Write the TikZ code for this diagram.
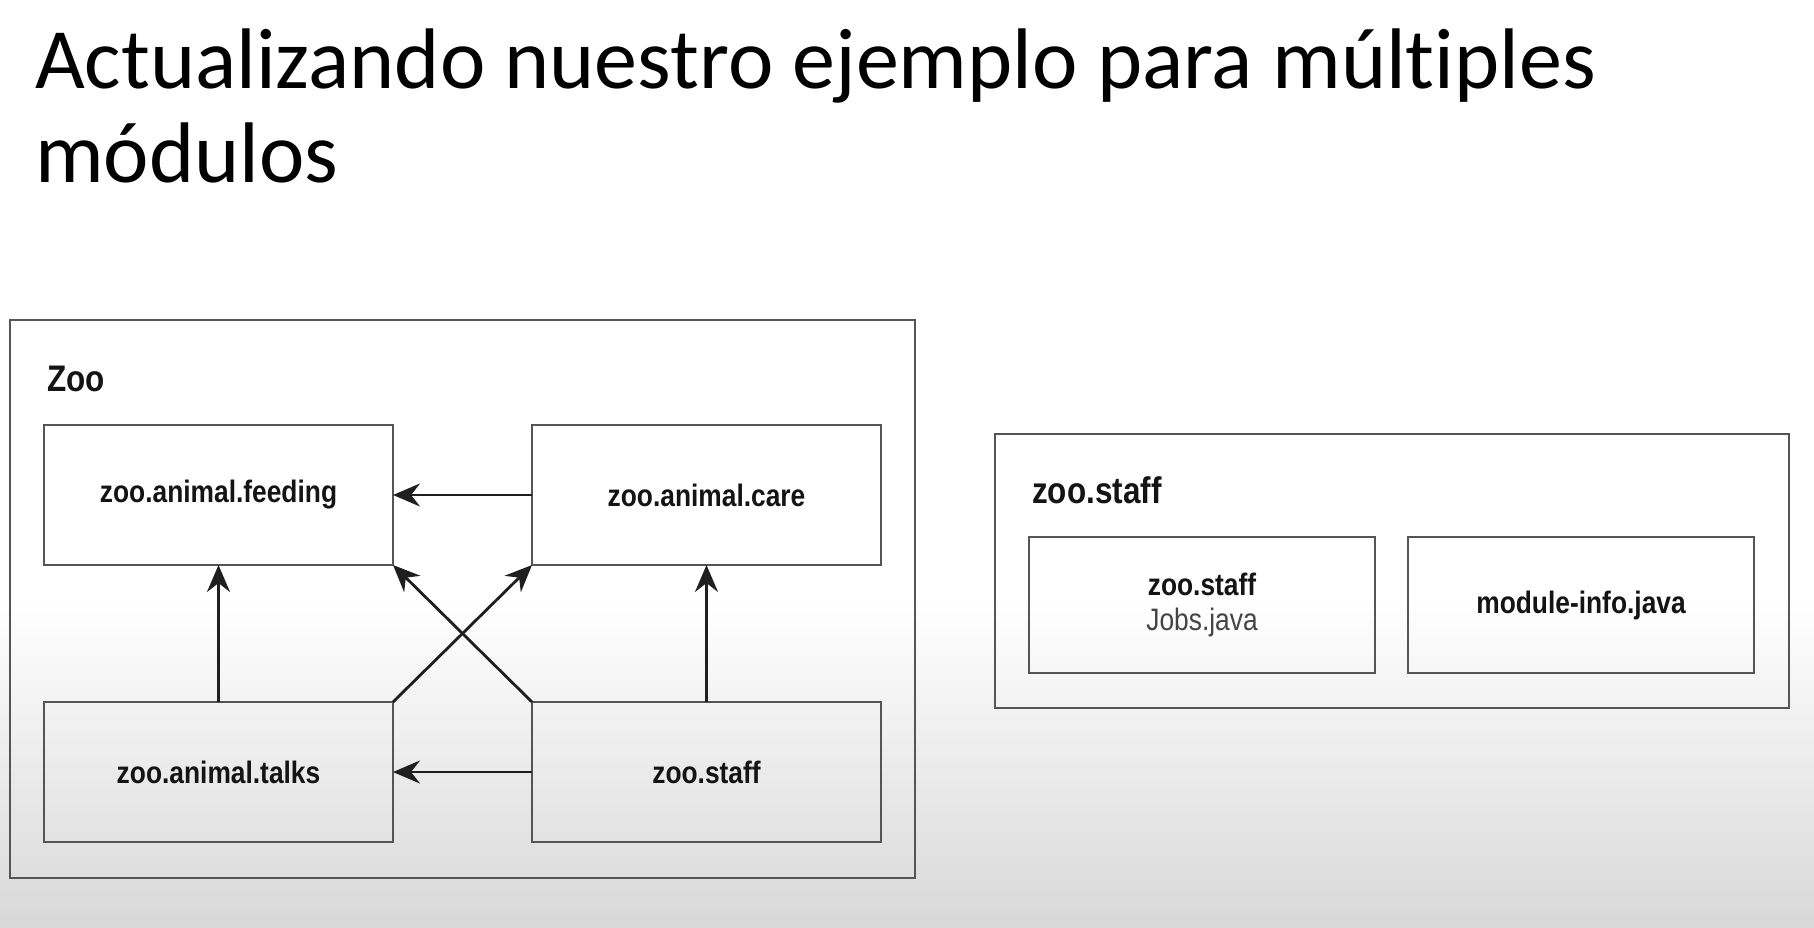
\documentclass[tikz,border=0pt]{standalone}
\usepackage{fontspec}
\setmainfont{Liberation Sans}
\newfontfamily\titlefont[Ligatures=NoCommon]{Carlito}
\newfontfamily\condfont[FakeStretch=0.85]{Liberation Sans}
\usetikzlibrary{positioning,arrows.meta}
\definecolor{edgegray}{HTML}{555555}
\definecolor{jobsgray}{HTML}{444444}
\definecolor{bggray}{HTML}{D8D8D8}
\tikzset{
x=1pt, y=-1pt,
>={Stealth[length=27pt,width=23pt,inset=9pt]},
node distance=137pt and 139pt,
module/.style={draw=edgegray, line width=2.5pt, outer sep=0pt, minimum width=349pt, minimum height=140pt, text=black!92, font=\condfont\bfseries\fontsize{31}{35}\selectfont},
group/.style={draw=edgegray, line width=2.5pt, outer sep=0pt, anchor=north west},
grouplabel/.style={anchor=base west, inner sep=0pt, text=black!92, font=\condfont\bfseries\fontsize{37}{40}\selectfont},
titleline/.style={anchor=base west, inner sep=0pt, font=\titlefont\fontsize{86}{93}\selectfont},
uses/.style={->, line width=2.8pt, draw=black!88},
}

\begin{document}
\begin{tikzpicture}
        \useasboundingbox (0,0) rectangle (1814,927);
        \fill[white] (0,0) rectangle (1814,600);
        \shade[top color=white, bottom color=bggray] (0,600) rectangle (1814,927);

        \node[titleline] (title1) at (35,88) {Actualizando nuestro ejemplo para múltiples};
        \node[titleline] (title2) at (35,182) {módulos};

        % Zoo module graph
        \node[group, minimum width=905pt, minimum height=558pt] (zoo) at (10,320) {};
        \node[grouplabel] (zoolabel) at (47,391) {Zoo};
        \node[module, anchor=north west] (feeding) at (44,425) {zoo.animal.feeding};
        \node[module, right=of feeding] (care) {zoo.animal.care};
        \node[module, below=of feeding] (talks) {zoo.animal.talks};
        \node[module, right=of talks] (staff) {zoo.staff};

        \path (care) edge[uses] (feeding)
                (talks) edge[uses] (feeding)
                (staff) edge[uses] (care)
                (staff) edge[uses] (talks)
                (talks.north east) edge[uses] (care.south west)
                (staff.north west) edge[uses] (feeding.south east);

        % zoo.staff contents
        \node[group, minimum width=794pt, minimum height=274pt] (staffmod) at (995,434) {};
        \node[grouplabel] (stafflabel) at (1032,503) {zoo.staff};
        \node[module, anchor=north west, minimum width=346pt, minimum height=136pt, align=center] (jobs) at (1029,537) {zoo.staff\\{\mdseries\color{jobsgray}Jobs.java}};
        \node[module, right=33pt of jobs, minimum width=346pt, minimum height=136pt] (info) {module-info.java};
\end{tikzpicture}
\end{document}
